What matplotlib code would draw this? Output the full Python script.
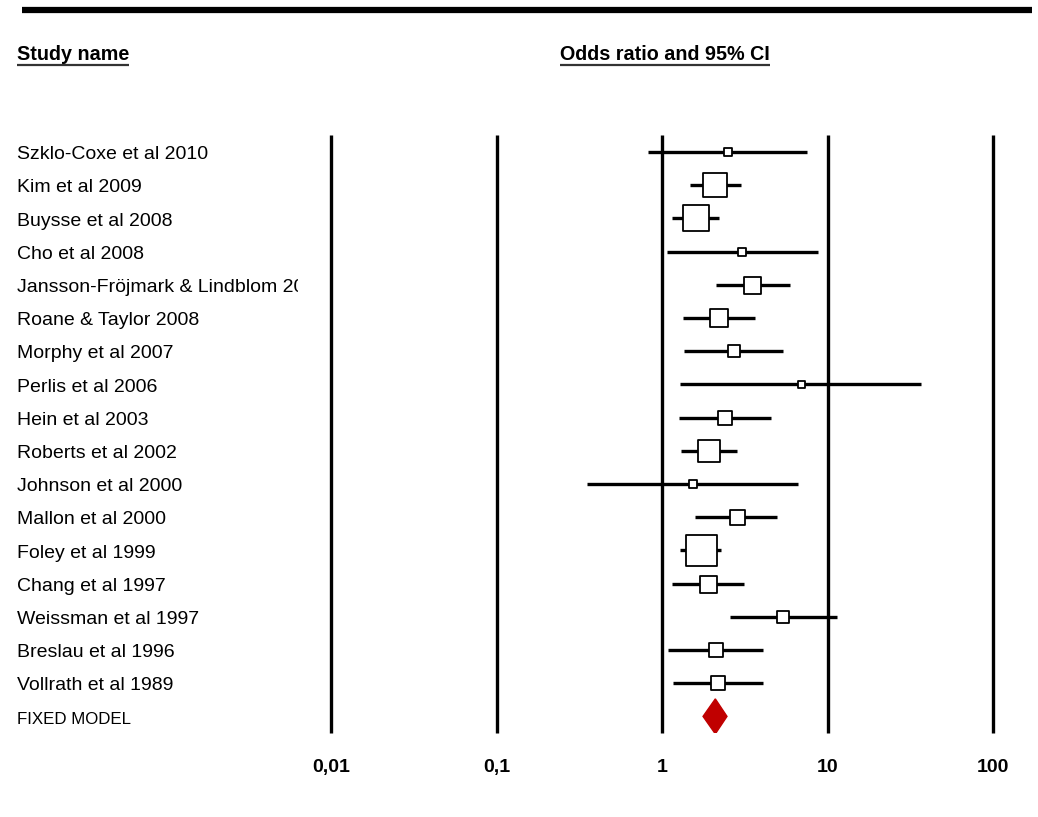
import matplotlib
matplotlib.use("Agg")
import matplotlib.pyplot as plt
from matplotlib.patches import Polygon
from matplotlib.lines import Line2D

# data
studies = ["Szklo-Coxe et al 2010", "Kim et al 2009", "Buysse et al 2008", "Cho et al 2008",
           "Jansson-Fröjmark & Lindblom 2008", "Roane & Taylor 2008", "Morphy et al 2007",
           "Perlis et al 2006", "Hein et al 2003", "Roberts et al 2002", "Johnson et al 2000",
           "Mallon et al 2000", "Foley et al 1999", "Chang et al 1997", "Weissman et al 1997",
           "Breslau et al 1996", "Vollrath et al 1989"]
odds = [2.50, 2.10, 1.60, 3.04, 3.52, 2.21, 2.72, 6.88, 2.40, 1.92, 1.54, 2.82, 1.71, 1.90, 5.42, 2.12, 2.18]
lower = [0.82, 1.48, 1.15, 1.07, 2.12, 1.34, 1.36, 1.28, 1.27, 1.30, 0.35, 1.58, 1.28, 1.15, 2.57, 1.09, 1.17]
upper = [7.5, 3.0, 2.21, 8.75, 5.93, 3.64, 5.38, 36.6, 4.55, 2.84, 6.63, 4.95, 2.27, 3.13, 11.4, 4.07, 4.07]
weights = [8, 24, 26, 8, 17, 18, 12, 7, 14, 22, 8, 15, 31, 17, 12, 14, 14]  # box width in px
fixed_label = "FIXED MODEL"
fixed_or, fixed_lo, fixed_hi = 2.10, 1.77, 2.47
ticks = [0.01, 0.1, 1, 10, 100]
tick_labels = ["0,01", "0,1", "1", "10", "100"]

W, H = 1038, 817
sans = ["Liberation Sans", "DejaVu Sans"]

fig = plt.figure(figsize=(W / 100, H / 100), dpi=100)

def px(x0, y0, x1, y1):
    return [x0 / W, 1 - y1 / H, (x1 - x0) / W, (y1 - y0) / H]

row_h = 33.2
y_top = (135 - 152) / row_h
y_bot = (733 - 152) / row_h

ax = fig.add_axes(px(331, 135, 993, 733))
ax.set_xscale("log")
ax.set_xlim(0.01, 100)
ax.set_ylim(y_bot, y_top)
for s in ax.spines.values():
    s.set_visible(False)
for t in ticks:
    ax.axvline(t, color="black", lw=2.4, zorder=1, clip_on=False, solid_capstyle="butt")
ax.set_xticks(ticks)
ax.set_xticklabels(tick_labels, fontfamily=sans, fontweight="bold", fontsize=14)
ax.minorticks_off()
ax.tick_params(axis="x", length=0, pad=19)
ax.set_yticks([])

n = len(studies)
for i in range(n):
    ax.plot([lower[i], upper[i]], [i, i], color="black", lw=2.4, zorder=2, clip_on=False,
            solid_capstyle="butt")
    ax.scatter([odds[i]], [i], marker="s", s=(weights[i] * 0.72) ** 2,
               facecolor="white", edgecolor="black", linewidth=1.3, zorder=3)

h = 17.5 / row_h
diamond = Polygon([(fixed_lo, n), (fixed_or, n - h), (fixed_hi, n), (fixed_or, n + h)],
                  closed=True, facecolor="#c00000", edgecolor="#c00000", zorder=3)
ax.add_patch(diamond)

# study labels, clipped like the original
lab = fig.add_axes(px(0, 125, 298, 743))
lab.set_xlim(0, 298)
lab.set_ylim((743 - 152) / row_h, (125 - 152) / row_h)
lab.axis("off")
dy = 0.08
for i, name in enumerate(studies):
    t = lab.text(17, i + dy, name, ha="left", va="center", fontfamily=sans, fontsize=14)
    t.set_clip_box(lab.bbox)
    t.set_clip_on(True)
t = lab.text(17, n + dy, fixed_label, ha="left", va="center", fontfamily=sans, fontsize=12.2)
t.set_clip_box(lab.bbox)

# top rule
fig.add_artist(Line2D([22 / W, 1032 / W], [1 - 10 / H, 1 - 10 / H], color="black", lw=4.5,
                      solid_capstyle="butt"))

# underlined headers
h1 = fig.text(17 / W, 1 - 54 / H, "Study name", fontfamily=sans, fontweight="bold",
              fontsize=14.2, ha="left", va="center")
h2 = fig.text(560 / W, 1 - 54 / H, "Odds ratio and 95% CI", fontfamily=sans, fontweight="bold",
              fontsize=14.2, ha="left", va="center")
fig.canvas.draw()
r = fig.canvas.get_renderer()
for t in (h1, h2):
    bb = t.get_window_extent(r)
    fig.add_artist(Line2D([bb.x0 / W, bb.x1 / W], [1 - 65 / H, 1 - 65 / H], color="#333333", lw=1.6,
                          solid_capstyle="butt"))

fig.savefig("out.png", dpi=100)
